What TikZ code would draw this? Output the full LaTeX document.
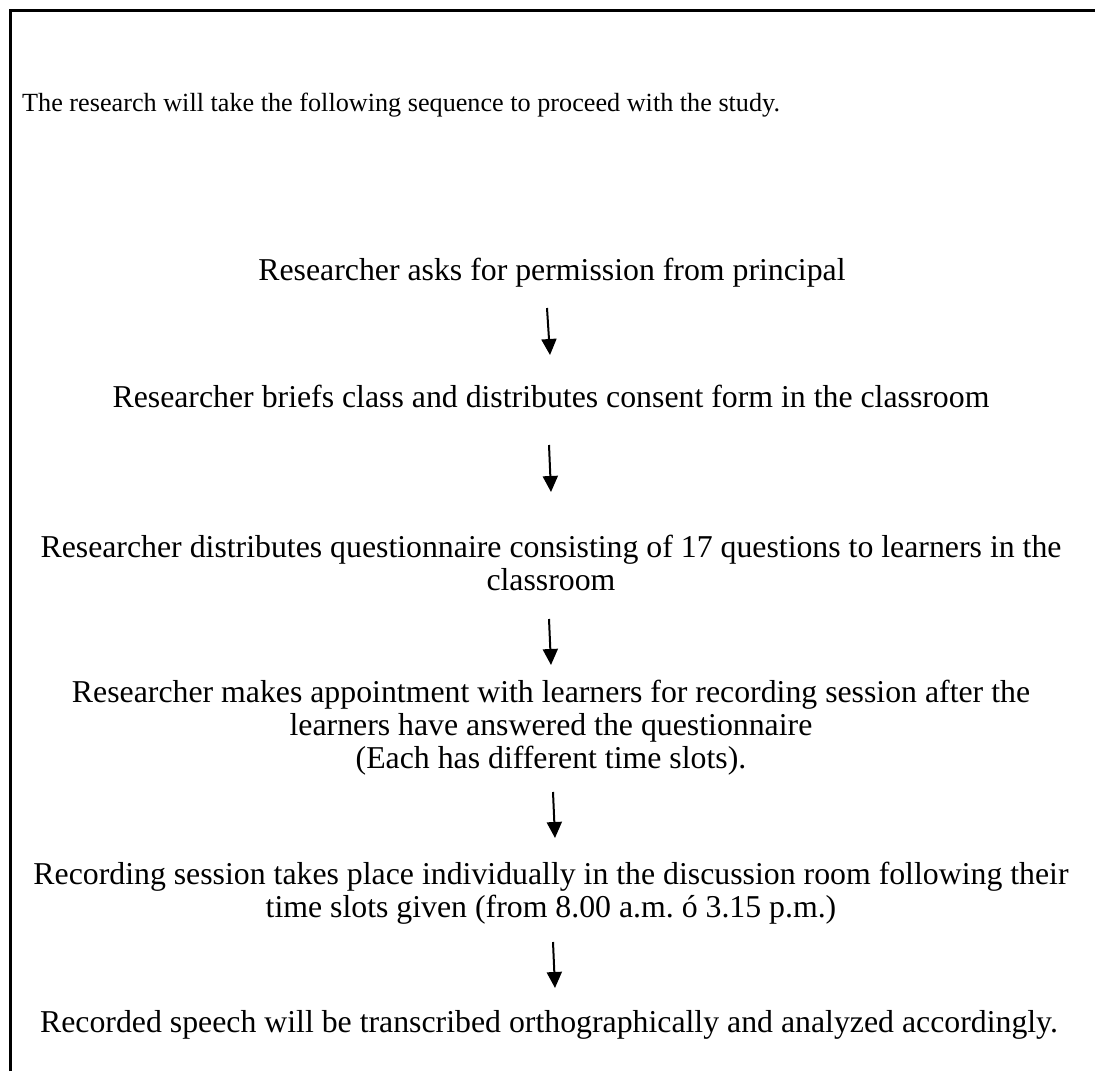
\documentclass[tikz,border=0pt]{standalone}
\usepackage{fontspec}
\setmainfont{Liberation Serif}
\usetikzlibrary{arrows.meta}
\frenchspacing
\begin{document}
\begin{tikzpicture}[x=1pt,y=-1pt,
  txt/.style={font=\fontsize{31.8}{33}\selectfont, inner sep=0pt, anchor=base, align=center},
  arr/.style={line width=2pt, -{Triangle[width=15pt,length=16pt]}}]
\useasboundingbox (0,0) rectangle (1095,1071);
\draw[line width=2.4pt] (10.5,1071) -- (10.5,10.5) -- (1095,10.5);
\node[font=\fontsize{26.2}{30}\selectfont, inner sep=0pt, anchor=base west] (intro) at (22,111) {The research will take the following sequence to proceed with the study.};
% for multi-line nodes the base anchor is the baseline of the last line
\node[txt] (s1) at (552,280) {Researcher asks for permission from principal};
\node[txt] (s2) at (551,407) {Researcher briefs class and distributes consent form in the classroom};
\node[txt] (s3) at (551,590) {Researcher distributes questionnaire consisting of 17 questions to learners in the\\classroom};
\node[txt] (s4) at (551,768) {Researcher makes appointment with learners for recording session after the\\learners have answered the questionnaire\\(Each has different time slots).};
\node[txt] (s5) at (551,917) {Recording session takes place individually in the discussion room following their\\time slots given (from 8.00 a.m. ó 3.15 p.m.)};
\node[txt] (s6) at (549,1032) {Recorded speech will be transcribed orthographically and analyzed accordingly.};
\coordinate (a1s) at (547,308); \coordinate (a1e) at (550,355);
\coordinate (a2s) at (549,445); \coordinate (a2e) at (551,492);
\coordinate (a3s) at (549,619); \coordinate (a3e) at (551,665);
\coordinate (a4s) at (553,792); \coordinate (a4e) at (555,838);
\coordinate (a5s) at (553,942); \coordinate (a5e) at (555,988);
\draw[arr] (a1s) -- (a1e);
\draw[arr] (a2s) -- (a2e);
\draw[arr] (a3s) -- (a3e);
\draw[arr] (a4s) -- (a4e);
\draw[arr] (a5s) -- (a5e);
\end{tikzpicture}
\end{document}
